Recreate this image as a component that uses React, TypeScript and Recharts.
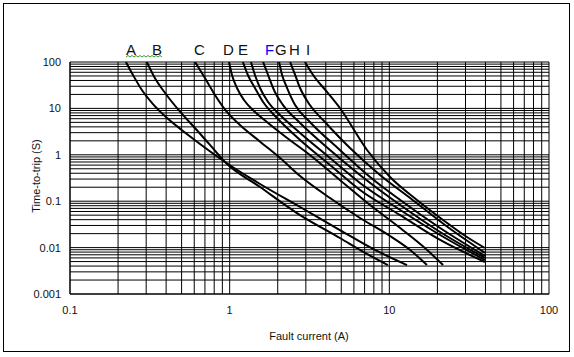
import React from 'react';
import { LineChart, Line, XAxis, YAxis, CartesianGrid } from 'recharts';

// fault current (A) / time-to-trip (s) pairs
const aCurrent = [0.224, 0.248, 0.282, 0.331, 0.399, 0.501, 0.652, 0.935, 1.55, 2.76, 4.9, 8.13, 12.9];
const aTime = [100, 52.5, 24.9, 12.4, 6.53, 3.42, 1.71, 0.7, 0.235, 0.075, 0.0239, 0.0089, 0.0042];

const bCurrent = [0.303, 0.34, 0.394, 0.489, 0.622, 0.753, 0.935, 1.55, 2.76, 4.9, 7.04, 9.8];
const bTime = [100, 45.2, 21.5, 8.5, 3.42, 1.63, 0.7, 0.202, 0.05, 0.0161, 0.0077, 0.0042];

const cCurrent = [0.607, 0.7, 0.809, 0.958, 1.16, 1.55, 2.07, 2.76, 4.25, 6.55, 10.1, 13.5, 17.2];
const cTime = [100, 45.2, 19.5, 8.5, 4.39, 1.92, 0.853, 0.349, 0.117, 0.0434, 0.0178, 0.0089, 0.0042];

const dCurrent = [0.99, 1.034, 1.111, 1.229, 1.42, 1.71, 2.29, 3.18, 4.9, 7.57, 11.7, 16.7, 21.7];
const dTime = [100, 52.5, 27.5, 15.2, 8.79, 5.09, 2.3, 0.99, 0.286, 0.0828, 0.0264, 0.0098, 0.0042];

const eCurrent = [1.21, 1.3, 1.44, 1.62, 1.98, 2.76, 4.25, 6.55, 11.7, 20.8, 39.7];
const eTime = [100, 52.5, 27.5, 13.7, 6.2, 2.08, 0.603, 0.174, 0.05, 0.0146, 0.0049];

const e2Current = [1.36, 1.44, 1.55, 1.74, 2.07, 2.76, 4.25, 6.55, 11.7, 20.8, 39.7];
const e2Time = [100, 52.5, 27.5, 13.7, 7.2, 2.95, 0.853, 0.247, 0.0646, 0.0187, 0.0054];

const fCurrent = [1.62, 1.74, 1.92, 2.16, 2.76, 4.25, 6.55, 11.7, 20.8, 39.7];
const fTime = [100, 52.5, 22.6, 11.8, 4.84, 1.27, 0.367, 0.0828, 0.0217, 0.006];

const gCurrent = [2.04, 2.13, 2.29, 2.57, 3.18, 4.9, 7.57, 11.7, 20.8, 39.7];
const gTime = [100, 52.5, 27.5, 11.8, 5.09, 1.27, 0.332, 0.106, 0.0264, 0.0066];

const hCurrent = [2.39, 2.57, 2.76, 3.18, 3.95, 5.67, 8.74, 13.5, 22.3, 39.7];
const hTime = [100, 52.5, 27.5, 11.8, 5.09, 1.4, 0.367, 0.117, 0.0307, 0.0077];

const iCurrent = [2.96, 3.33, 4.07, 4.9, 7.25, 10.1, 14.9, 21.7, 30.6, 39.7];
const iTime = [100, 52.5, 22.6, 10.2, 1.27, 0.332, 0.106, 0.0393, 0.0169, 0.0098];

const xTicks = [
  0.1, 0.2, 0.3, 0.4, 0.5, 0.6, 0.7, 0.8, 0.9,
  1, 2, 3, 4, 5, 6, 7, 8, 9,
  10, 20, 30, 40, 50, 60, 70, 80, 90, 100,
];
const yTicks = [
  0.001, 0.002, 0.003, 0.004, 0.005, 0.006, 0.007, 0.008, 0.009,
  0.01, 0.02, 0.03, 0.04, 0.05, 0.06, 0.07, 0.08, 0.09,
  0.1, 0.2, 0.3, 0.4, 0.5, 0.6, 0.7, 0.8, 0.9,
  1, 2, 3, 4, 5, 6, 7, 8, 9,
  10, 20, 30, 40, 50, 60, 70, 80, 90, 100,
];
const xLabels = ['0.1', '1', '10', '100'];
const yLabels = ['0.001', '0.01', '0.1', '1', '10', '100'];

const curveLetters = [
  { text: 'A', x: 126 },
  { text: 'B', x: 152 },
  { text: 'C', x: 194 },
  { text: 'D', x: 223 },
  { text: 'E', x: 238 },
  { text: 'F', x: 265, color: '#0000ff' },
  { text: 'G', x: 275 },
  { text: 'H', x: 289 },
  { text: 'I', x: 306 },
];

const toPoints = (current: number[], time: number[]) =>
  current.map((x, i) => ({ x, y: time[i] }));

const curves = [
  toPoints(aCurrent, aTime),
  toPoints(bCurrent, bTime),
  toPoints(cCurrent, cTime),
  toPoints(dCurrent, dTime),
  toPoints(eCurrent, eTime),
  toPoints(e2Current, e2Time),
  toPoints(fCurrent, fTime),
  toPoints(gCurrent, gTime),
  toPoints(hCurrent, hTime),
  toPoints(iCurrent, iTime),
];

const FONT = '"Liberation Sans", Arial, sans-serif';

const XTick = (props: any) => {
  const { x, y, payload } = props;
  const label = String(payload.value);
  if (!xLabels.includes(label)) return <g />;
  return (
    <text x={x} y={y} dy={20} textAnchor="middle" fontSize={11} fontFamily={FONT} fill="#111">
      {label}
    </text>
  );
};

const YTick = (props: any) => {
  const { x, y, payload } = props;
  const label = String(payload.value);
  if (!yLabels.includes(label)) return <g />;
  return (
    <text x={x} y={y} dx={-9} dy={4} textAnchor="end" fontSize={11} fontFamily={FONT} fill="#111">
      {label}
    </text>
  );
};

// green spell-check squiggle under "A B"
const squiggle = (() => {
  let d = 'M126 57';
  for (let px = 128, up = true; px <= 163; px += 2, up = !up) {
    d += ` L${px} ${up ? 55.5 : 57}`;
  }
  return d;
})();

export default function App() {
  return (
    <div style={{ position: 'absolute', left: 0, top: 0, width: 574, height: 357, background: '#fff' }}>
      <div
        style={{
          position: 'absolute',
          left: 3,
          top: 3,
          width: 565,
          height: 347,
          border: '1px solid #000',
        }}
      />
      <LineChart
        width={574}
        height={357}
        margin={{ top: 62, right: 25, bottom: 33, left: 10 }}
        style={{ position: 'absolute', left: 0, top: 0 }}
      >
        <CartesianGrid stroke="#000" strokeWidth={1} />
        <XAxis
          dataKey="x"
          type="number"
          scale="log"
          domain={[0.1, 100]}
          ticks={xTicks}
          interval={0}
          tickLine={false}
          tickSize={0}
          tickMargin={0}
          axisLine={{ stroke: '#000' }}
          height={30}
          tick={<XTick />}
          allowDataOverflow
        />
        <YAxis
          type="number"
          scale="log"
          domain={[0.001, 100]}
          ticks={yTicks}
          interval={0}
          tickLine={false}
          tickSize={0}
          tickMargin={0}
          axisLine={{ stroke: '#000' }}
          width={60}
          tick={<YTick />}
          allowDataOverflow
        />
        {curves.map((data, i) => (
          <Line
            key={i}
            data={data}
            dataKey="y"
            type="monotone"
            stroke="#000"
            strokeWidth={2}
            dot={false}
            isAnimationActive={false}
          />
        ))}
      </LineChart>
      <svg
        width={574}
        height={357}
        style={{ position: 'absolute', left: 0, top: 0, pointerEvents: 'none' }}
      >
        {curveLetters.map((l) => (
          <text key={l.text} x={l.x} y={55} fontSize={15} fontFamily={FONT} fill={l.color ?? '#111'}>
            {l.text}
          </text>
        ))}
        <path d={squiggle} stroke="#3c9a3c" strokeWidth={1} fill="none" />
        <text
          x={36}
          y={176}
          transform="rotate(-90 36 176)"
          textAnchor="middle"
          dominantBaseline="central"
          fontSize={11}
          fontFamily={FONT}
          fill="#111"
        >
          Time-to-trip (S)
        </text>
        <text x={309} y={340} textAnchor="middle" fontSize={11} fontFamily={FONT} fill="#111">
          Fault current (A)
        </text>
      </svg>
    </div>
  );
}
